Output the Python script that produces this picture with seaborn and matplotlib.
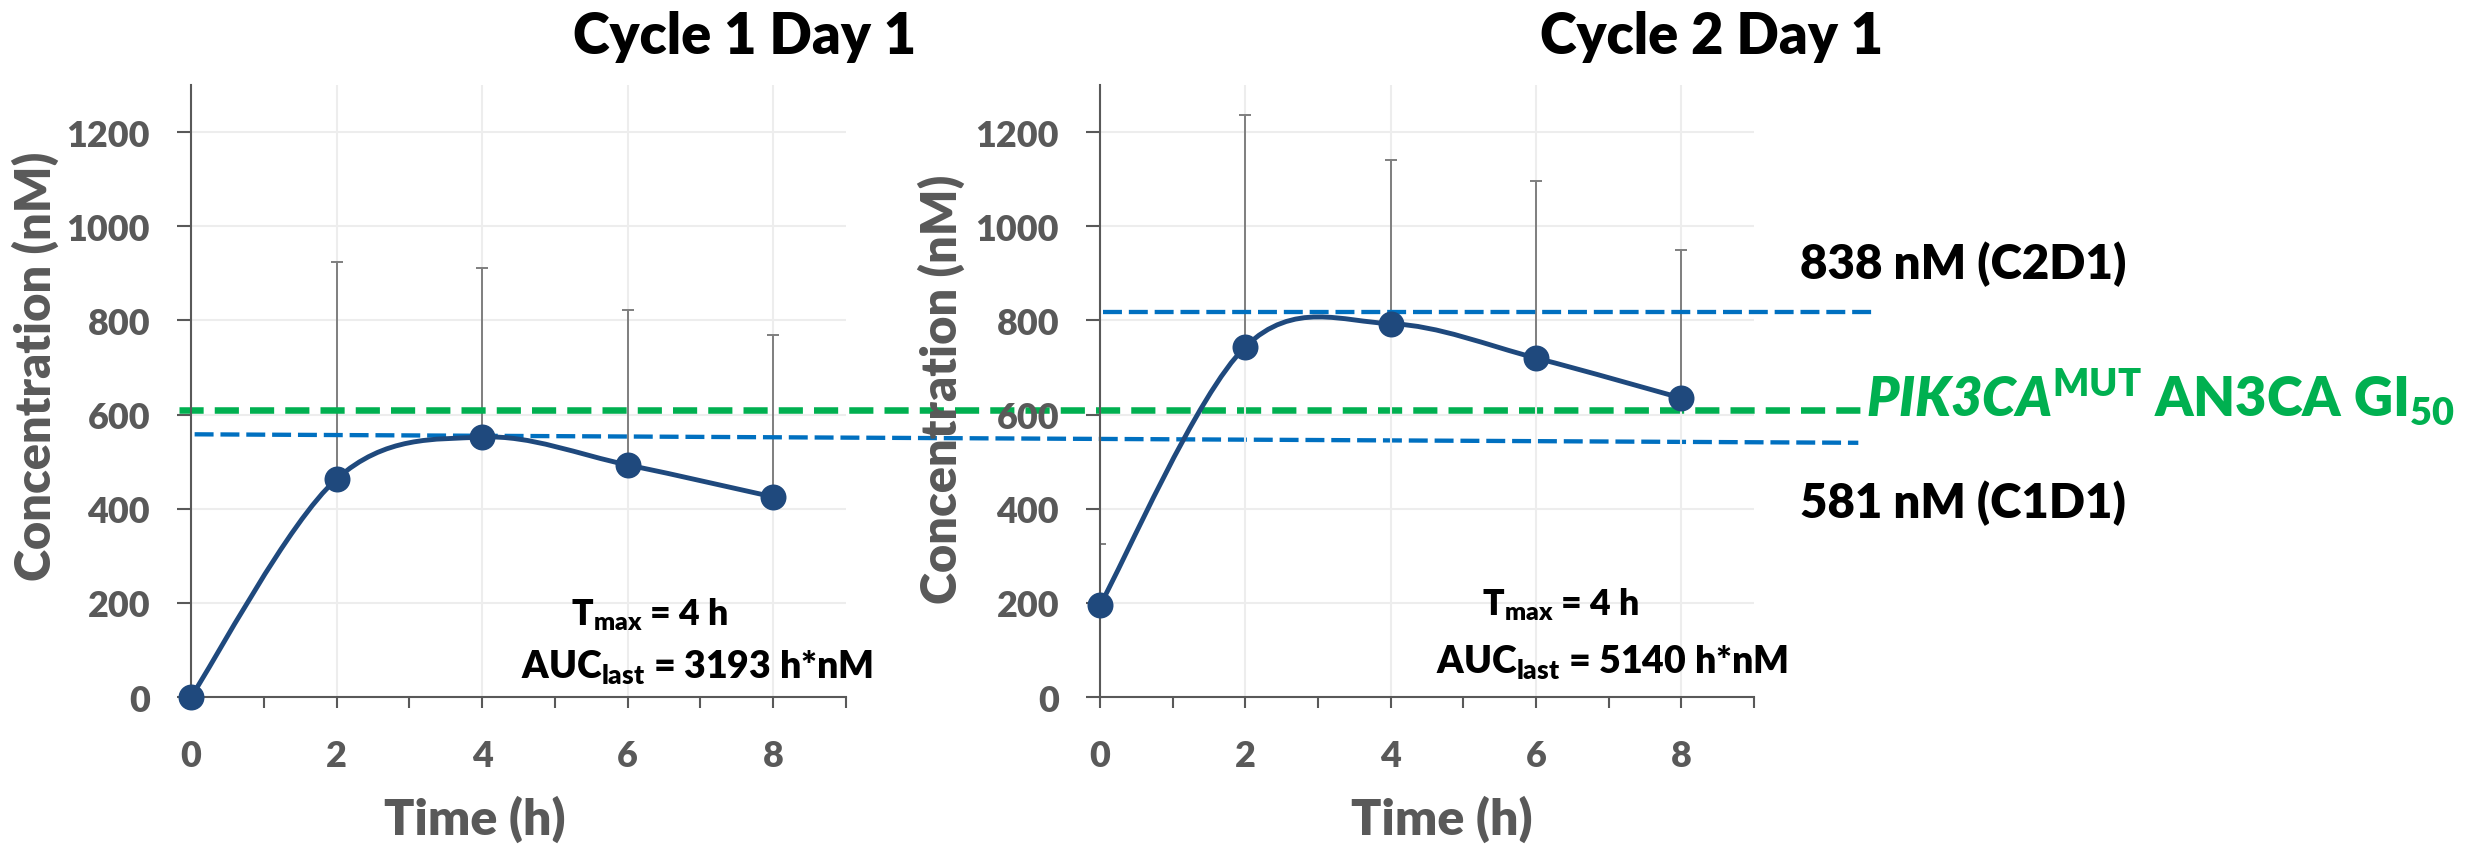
import matplotlib
matplotlib.use("Agg")
import matplotlib.pyplot as plt
from matplotlib.path import Path
from matplotlib.patches import PathPatch
from matplotlib.ticker import MultipleLocator
import pandas as pd
import seaborn as sns

# sampling times (h)
time_h = [0, 2, 4, 6, 8]

# Cycle 1 Day 1 - mean concentration and upper SD (nM)
c1d1_mean = [0, 463, 552, 493, 425]
c1d1_sd = [0, 462, 360, 329, 343]

# Cycle 2 Day 1
c2d1_mean = [195, 744, 793, 720, 635]
c2d1_sd = [131, 493, 347, 377, 314]

titles = ["Cycle 1 Day 1", "Cycle 2 Day 1"]
tmax_h = [4, 4]
auc_last = [3193, 5140]

# reference lines as drawn on the slide (nM)
gi50_level = [610, 610]
c1d1_level = [558, 540]
c2d1_level = [818, 818]
c1d1_cmax = 581
c2d1_cmax = 838

NAVY = "#1F497D"
GREY = "#595959"
GREEN = "#00B050"
BLUE = "#0070C0"

sns.set_theme(style="white")
plt.rcParams["font.family"] = ["Lato", "DejaVu Sans"]
plt.rcParams["font.weight"] = "heavy"
plt.rcParams["axes.labelweight"] = "heavy"
plt.rcParams["mathtext.fontset"] = "custom"
plt.rcParams["mathtext.rm"] = "Lato:heavy"
plt.rcParams["mathtext.bf"] = "Lato:heavy"
plt.rcParams["mathtext.it"] = "Lato:heavy:italic"
plt.rcParams["mathtext.bfit"] = "Lato:heavy:italic"


def smooth_path(xs, ys):
    # Excel style smoothed line: cubic bezier through every point
    pts = list(zip(xs, ys))
    n = len(pts)
    verts = [pts[0]]
    codes = [Path.MOVETO]
    for i in range(n - 1):
        p0 = pts[max(i - 1, 0)]
        p1 = pts[i]
        p2 = pts[i + 1]
        p3 = pts[min(i + 2, n - 1)]
        c1 = (p1[0] + (p2[0] - p0[0]) / 6, p1[1] + (p2[1] - p0[1]) / 6)
        c2 = (p2[0] - (p3[0] - p1[0]) / 6, p2[1] - (p3[1] - p1[1]) / 6)
        verts += [c1, c2, p2]
        codes += [Path.CURVE4] * 3
    return Path(verts, codes)


def draw_panel(ax, mean, sd, title_x, title, tmax, auc, text_pos, label_pos):
    df = pd.DataFrame({"time": time_h, "conc": mean, "sd": sd})
    ax.set_facecolor("none")
    ax.errorbar(df["time"], df["conc"], yerr=[[0] * len(df), df["sd"]], fmt="none",
                ecolor="#7F7F7F", elinewidth=1.4, capsize=4, capthick=1.4, zorder=2)
    ax.add_patch(PathPatch(smooth_path(df["time"], df["conc"]), fill=False,
                           edgecolor=NAVY, lw=3.5, zorder=3, capstyle="round"))
    sns.scatterplot(data=df, x="time", y="conc", ax=ax, s=350, color=NAVY,
                    edgecolor=NAVY, linewidth=0, zorder=4, clip_on=False)

    ax.set_xlim(0, 9)
    ax.set_ylim(0, 1300)
    ax.xaxis.set_major_locator(MultipleLocator(2))
    ax.xaxis.set_minor_locator(MultipleLocator(1))
    ax.set_yticks(range(0, 1201, 200))
    ax.grid(True, which="major", color="#EDEDED", lw=1.5, zorder=0)
    ax.set_axisbelow(True)
    sns.despine(ax=ax)
    for side in ["left", "bottom"]:
        ax.spines[side].set_color(GREY)
        ax.spines[side].set_linewidth(1.5)
    ax.tick_params(axis="both", which="both", direction="out", color=GREY, width=1.5,
                   labelcolor=GREY, labelsize=28)
    ax.tick_params(axis="x", which="both", length=8, pad=22, bottom=True)
    ax.tick_params(axis="y", length=10, pad=19.5, left=True)

    ax.set_xlabel("Time (h)", fontsize=34, color=GREY, va="center")
    ax.set_ylabel("Concentration (nM)", fontsize=34, color=GREY, va="center")
    ax.xaxis.set_label_coords(label_pos[0], -0.198)
    ax.yaxis.set_label_coords(label_pos[1], label_pos[2])

    t = ax.figure.text(title_x, 0.936, title, fontsize=35, color="black", ha="center",
                       va="baseline")
    t1 = ax.text(text_pos[0], text_pos[1], f"T$_{{\\mathrm{{max}}}}$ = {tmax} h",
                 transform=ax.transAxes, fontsize=26, ha="center", va="baseline",
                 color="black")
    t2 = ax.text(text_pos[2], text_pos[3], f"AUC$_{{\\mathrm{{last}}}}$ = {auc} h*nM",
                 transform=ax.transAxes, fontsize=26, ha="center", va="baseline",
                 color="black")
    return t, t1, t2


fig = plt.figure(figsize=(24.66, 8.45), dpi=100)
ax1 = fig.add_axes([0.07745, 0.17396, 0.26561, 0.72426])
ax2 = fig.add_axes([0.44607, 0.17396, 0.26521, 0.72426])

texts1 = draw_panel(ax1, c1d1_mean, c1d1_sd, 0.302, titles[0], tmax_h[0], auc_last[0],
                    (0.700, 0.119, 0.7725, 0.033), (0.4336, -0.238, 0.542))
texts2 = draw_panel(ax2, c2d1_mean, c2d1_sd, 0.694, titles[1], tmax_h[1], auc_last[1],
                    (0.705, 0.135, 0.783, 0.041), (0.523, -0.243, 0.505))

# reference lines run across both panels
ax1.plot([-0.16, 22.95], gi50_level, color=GREEN, lw=4.7, ls=(0, (3.7, 1.7)),
         clip_on=False, zorder=2.5)
ax1.plot([0.05, 22.91], c1d1_level, color=BLUE, lw=3.1, ls=(0, (4.4, 1.6)),
         clip_on=False, zorder=2.5)
ax2.plot([0.04, 10.66], c2d1_level, color=BLUE, lw=3.1, ls=(0, (4.4, 1.6)),
         clip_on=False, zorder=2.5)

c2_txt = fig.text(0.7299, 0.6698, f"{c2d1_cmax} nM (C2D1)", fontsize=34, color="black",
                  ha="left", va="baseline")
c1_txt = fig.text(0.7299, 0.3870, f"{c1d1_cmax} nM (C1D1)", fontsize=34, color="black",
                  ha="left", va="baseline")
gi_txt = fig.text(0.7567, 0.5077,
                  r"$\mathbfit{PIK3CA}^{\mathrm{MUT}}$ AN3CA GI$_{\mathrm{50}}$",
                  fontsize=39, color=GREEN, ha="left", va="baseline")

# size the text so its width matches the slide (pixels at 100 dpi)
fig.canvas.draw()
renderer = fig.canvas.get_renderer()


def fit(txt, target, vertical=False):
    for _ in range(2):
        bb = txt.get_window_extent(renderer)
        size = bb.height if vertical else bb.width
        txt.set_fontsize(txt.get_fontsize() * target / size)


for texts in (texts1, texts2):
    fit(texts[0], 343)
    fit(texts[1], 157)
    fit(texts[2], 353)
fit(c2_txt, 326)
fit(c1_txt, 326)
fit(gi_txt, 589)

tick_bb = ax1.get_yticklabels()[-1].get_window_extent(renderer)
tick_size = 28 * 83 / tick_bb.width
ylab_bb = ax1.yaxis.label.get_window_extent(renderer)
ylab_size = 34 * 431 / ylab_bb.height
xlab_bb = ax1.xaxis.label.get_window_extent(renderer)
xlab_size = 34 * 182 / xlab_bb.width
for ax in (ax1, ax2):
    ax.tick_params(axis="both", labelsize=tick_size)
    ax.yaxis.label.set_fontsize(ylab_size)
    ax.xaxis.label.set_fontsize(xlab_size)

fig.savefig("out.png", dpi=100, facecolor="white")
